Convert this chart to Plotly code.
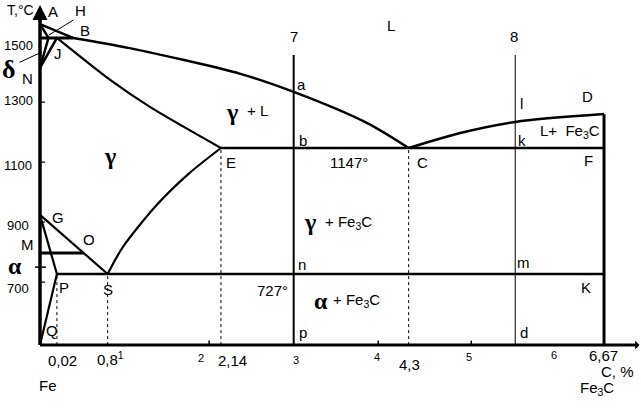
import plotly.graph_objects as go

W, H = 641, 410
FONT = "Arial, Liberation Sans, sans-serif"
SERIF = "Times New Roman, Liberation Serif, serif"

# carbon, %  /  temperature, °C  (as drawn)
T_BOTTOM = 490
A = (0.0, 1560)
H_PT = (0.1, 1514)
J = (0.2, 1514)
B = (0.39, 1514)
N = (0.0, 1414)
G = (0.0, 924)
M = (0.0, 797)
O = (0.52, 797)
P = (0.2, 727)
Q = (0.0, T_BOTTOM)
S = (0.8, 727)
E = (2.14, 1147)
C = (4.36, 1147)
F = (6.67, 1147)
K = (6.67, 727)
D = (6.67, 1260)

liquidus_bc_c = [0.39, 1.06, 2.37, 3.0, 3.87, 4.36]
liquidus_bc_t = [1514, 1480, 1394, 1334, 1230, 1147]
liquidus_cd_c = [4.36, 4.97, 5.62, 6.67]
liquidus_cd_t = [1147, 1197, 1234, 1260]
solidus_je_c = [0.2, 0.83, 1.30, 2.14]
solidus_je_t = [1514, 1374, 1284, 1147]
acm_se_c = [0.8, 0.98, 1.38, 1.77, 2.14]
acm_se_t = [727, 817, 957, 1064, 1147]

alloy_7 = 3.0
alloy_8 = 5.62
alloy_top = 1457
axis_x_end = 7.06
axis_y_end = 1624
x_ticks = [2.0, 4.0, 5.1]
y_ticks = [1300, 1100, 900, 700]
alpha_tick = 750

fig = go.Figure()


def seg(pts_c, pts_t, width=2.5, dash="solid", shape="linear"):
    fig.add_trace(go.Scatter(
        x=pts_c, y=pts_t, mode="lines",
        line=dict(color="black", width=width, dash=dash, shape=shape, smoothing=0.8),
        hoverinfo="skip", showlegend=False,
    ))


def line2(p1, p2, width=2.5, dash="solid"):
    seg([p1[0], p2[0]], [p1[1], p2[1]], width, dash)


# axes
seg([0, axis_x_end], [T_BOTTOM, T_BOTTOM], 3)
seg([0, 0], [T_BOTTOM, axis_y_end - 30], 3.5)
for xt in x_ticks:
    seg([xt, xt], [T_BOTTOM, T_BOTTOM + 15], 1.5)
for yt in y_ticks:
    seg([0, 0.06], [yt, yt], 1.2)
seg([-0.06, 0.07], [alpha_tick, alpha_tick], 1.5)

# delta corner
line2(A, B, 2.5)
line2(A, H_PT, 2.5)
seg([0, B[0]], [B[1], B[1]], 3)
line2(H_PT, N, 2.5)
line2(J, N, 2.5)

# liquidus / solidus
seg(liquidus_bc_c, liquidus_bc_t, 2.5, shape="spline")
seg(liquidus_cd_c, liquidus_cd_t, 2.5, shape="spline")
seg(solidus_je_c, solidus_je_t, 2.2, shape="spline")
seg(acm_se_c, acm_se_t, 2.2, shape="spline")

# eutectic / eutectoid lines
line2(E, F, 2.5)
line2(P, K, 2.5)
line2(D, (6.67, T_BOTTOM), 3)

# low temperature region
line2(G, S, 2.2)
line2(G, P, 2.2)
line2(P, Q, 2.2)
line2(M, O, 3)

# alloy lines 7 and 8
seg([alloy_7, alloy_7], [alloy_top, T_BOTTOM], 2)
seg([alloy_8, alloy_8], [alloy_top, T_BOTTOM], 1)

# dotted projections
for pt in (P, S, E, C):
    seg([pt[0], pt[0]], [T_BOTTOM, pt[1]], 1, "dot")

ann = []


def lab(text, x, y, size=15, family=FONT):
    ann.append(dict(text=text, x=x / W, y=1 - y / H, xref="paper", yref="paper",
                    showarrow=False, xanchor="center", yanchor="middle",
                    font=dict(size=size, family=family, color="black")))


def leader(x0, y0, x1, y1):
    ann.append(dict(text="", x=x0 / W, y=1 - y0 / H, xref="paper", yref="paper",
                    showarrow=True, arrowhead=0, arrowwidth=1, arrowcolor="black",
                    ax=x1 - x0, ay=y1 - y0))


# axis arrows
ann.append(dict(text="", x=0, y=axis_y_end, xref="x", yref="y", showarrow=True,
                arrowhead=2, arrowsize=1, arrowwidth=3, arrowcolor="black",
                ax=0, ay=18))
ann.append(dict(text="", x=axis_x_end + 0.03, y=T_BOTTOM, xref="x", yref="y",
                showarrow=True, arrowhead=1, arrowsize=1.2, arrowwidth=1.2,
                arrowcolor="black", ax=-12, ay=0))

lab("T,°C", 20, 10, 14)
lab("1500", 18, 46, 13)
lab("1300", 18, 100, 13)
lab("1100", 18, 165, 13)
lab("900", 18, 225, 13)
lab("700", 18, 288, 13)
lab("<b>δ</b>", 9, 69, 26, SERIF)
leader(42, 52, 18, 63)
lab("<b>α</b>", 15, 266, 24, SERIF)

lab("A", 53, 11)
lab("H", 80, 10)
leader(49, 35, 75, 19)
lab("B", 85, 31)
lab("J", 58, 53)
lab("N", 27, 79)
lab("G", 58, 217)
lab("M", 27, 244)
lab("O", 89, 240)
lab("P", 64, 287)
lab("S", 108, 289)
lab("Q", 52, 330)

lab("<b>γ</b>", 110, 156, 24, SERIF)
lab("<b>γ</b>", 232, 112, 24, SERIF)
lab("+ L", 257, 110, 15)
lab("<b>γ</b>", 310, 222, 24, SERIF)
lab("+ Fe<sub>3</sub>C", 348, 222, 15)
lab("<b>α</b>", 321, 301, 24, SERIF)
lab("+ Fe<sub>3</sub>C", 356, 300, 15)
lab("L+  Fe<sub>3</sub>C", 570, 131, 15)

lab("7", 294, 37, 15)
lab("8", 514, 37, 15)
lab("L", 391, 25, 15)
lab("a", 301, 85)
lab("b", 303, 140)
lab("n", 302, 264)
lab("p", 303, 332)
lab("l", 521, 103)
lab("k", 522, 140)
lab("m", 523, 262)
lab("d", 524, 332)
lab("E", 231, 162)
lab("C", 422, 162)
lab("1147°", 349, 162)
lab("727°", 272, 290)
lab("D", 587, 96)
lab("F", 588, 160)
lab("K", 586, 287)

lab("0,02", 62, 360)
lab("0,8<sup>1</sup>", 110, 358)
lab("2", 201, 358, 11)
lab("2,14", 232, 360)
lab("3", 296, 360, 11)
lab("4", 377, 357, 11)
lab("4,3", 409, 364)
lab("5", 469, 357, 11)
lab("6", 554, 355, 11)
lab("6,67", 603, 355)
lab("C, %", 617, 371)
lab("Fe<sub>3</sub>C", 597, 388)
lab("Fe", 48, 385)

x0 = -40 / 84.56
fig.update_layout(
    width=W, height=H,
    margin=dict(l=0, r=0, t=0, b=0),
    paper_bgcolor="white", plot_bgcolor="white",
    xaxis=dict(range=[x0, x0 + W / 84.56], visible=False, fixedrange=True),
    yaxis=dict(range=[727 - 136 / 0.3, 727 + 274 / 0.3], visible=False, fixedrange=True),
    annotations=ann,
    showlegend=False,
)
fig.write_html("out.html", config={"displayModeBar": False},
               post_script="document.body.style.margin='0';")
